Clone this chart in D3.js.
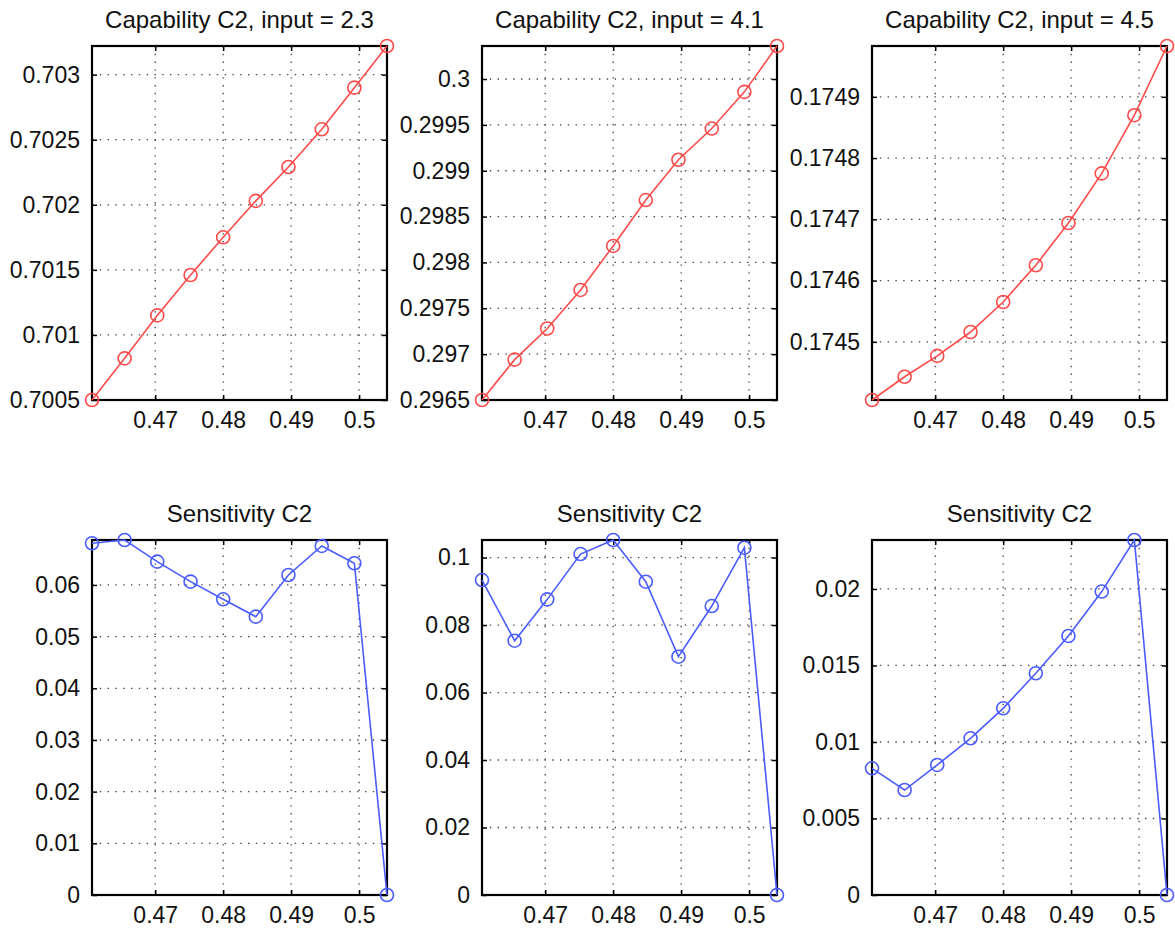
<!DOCTYPE html>
<html>
<head>
<meta charset="utf-8">
<script src="https://cdn.jsdelivr.net/npm/d3@7/dist/d3.min.js"></script>
<style>
  html, body { margin: 0; padding: 0; background: #fff; }
  svg text { font-family: "Liberation Sans", Arial, Helvetica, sans-serif; fill: #111; }
</style>
</head>
<body>
<svg id="fig" width="1175" height="934"></svg>
<script>
// Shared x values (parameter sweep)
const xValues = [0.4607, 0.4655, 0.4703, 0.4752, 0.4800, 0.4848, 0.4896, 0.4945, 0.4993, 0.5041];
const xTicks = [0.47, 0.48, 0.49, 0.5];
const xTickLabels = ["0.47", "0.48", "0.49", "0.5"];

// Capability C2 for three inputs
const capability23 = [0.70050, 0.70082, 0.70115, 0.70146, 0.70175, 0.70203, 0.70229, 0.70258, 0.70290, 0.70322];
const capability41 = [0.29650, 0.29694, 0.29728, 0.29770, 0.29818, 0.29868, 0.29912, 0.29946, 0.29986, 0.30036];
const capability45 = [0.174405, 0.174443, 0.174477, 0.174516, 0.174565, 0.174625, 0.174694, 0.174775, 0.174870, 0.174983];

// Sensitivity C2 for the same three inputs
const sensitivity23 = [0.06807, 0.06870, 0.06451, 0.06064, 0.05722, 0.05387, 0.06193, 0.06755, 0.06420, 0];
const sensitivity41 = [0.09333, 0.07536, 0.08761, 0.10104, 0.10520, 0.09284, 0.07062, 0.08563, 0.10292, 0];
const sensitivity45 = [0.00828, 0.00686, 0.00850, 0.01024, 0.01220, 0.01449, 0.01693, 0.01983, 0.02320, 0];

// Y tick values and labels for each panel
const yTicks23 = [0.7005, 0.701, 0.7015, 0.702, 0.7025, 0.703];
const yTickLabels23 = ["0.7005", "0.701", "0.7015", "0.702", "0.7025", "0.703"];
const yTicks41 = [0.2965, 0.297, 0.2975, 0.298, 0.2985, 0.299, 0.2995, 0.3];
const yTickLabels41 = ["0.2965", "0.297", "0.2975", "0.298", "0.2985", "0.299", "0.2995", "0.3"];
const yTicks45 = [0.1745, 0.1746, 0.1747, 0.1748, 0.1749];
const yTickLabels45 = ["0.1745", "0.1746", "0.1747", "0.1748", "0.1749"];
const yTicksS23 = [0, 0.01, 0.02, 0.03, 0.04, 0.05, 0.06];
const yTickLabelsS23 = ["0", "0.01", "0.02", "0.03", "0.04", "0.05", "0.06"];
const yTicksS41 = [0, 0.02, 0.04, 0.06, 0.08, 0.1];
const yTickLabelsS41 = ["0", "0.02", "0.04", "0.06", "0.08", "0.1"];
const yTicksS45 = [0, 0.005, 0.01, 0.015, 0.02];
const yTickLabelsS45 = ["0", "0.005", "0.01", "0.015", "0.02"];

const titles = ["Capability C2, input = 2.3", "Capability C2, input = 4.1", "Capability C2, input = 4.5",
                "Sensitivity C2", "Sensitivity C2", "Sensitivity C2"];

const RED = "#ff4a4a";
const BLUE = "#4a5cff";

const panels = [
  { col: 0, row: 0, y: capability23, ticks: yTicks23, labels: yTickLabels23, color: RED },
  { col: 1, row: 0, y: capability41, ticks: yTicks41, labels: yTickLabels41, color: RED },
  { col: 2, row: 0, y: capability45, ticks: yTicks45, labels: yTickLabels45, color: RED },
  { col: 0, row: 1, y: sensitivity23, ticks: yTicksS23, labels: yTickLabelsS23, color: BLUE },
  { col: 1, row: 1, y: sensitivity41, ticks: yTicksS41, labels: yTickLabelsS41, color: BLUE },
  { col: 2, row: 1, y: sensitivity45, ticks: yTicksS45, labels: yTickLabelsS45, color: BLUE }
];

const colLeft = [92, 482, 872];
const rowTop = [46, 540];
const plotW = 295;
const plotH = [354, 355];
const FONT = 23;

const svg = d3.select("#fig");

panels.forEach((p, i) => {
  const W = plotW, H = plotH[p.row];
  const g = svg.append("g").attr("transform", `translate(${colLeft[p.col]},${rowTop[p.row]})`);

  const x = d3.scaleLinear().domain(d3.extent(xValues)).range([0, W]);
  const y = d3.scaleLinear().domain(d3.extent(p.y)).range([H, 0]);

  // dotted grid
  const grid = g.append("g").attr("stroke", "#444").attr("stroke-width", 1.3)
    .attr("stroke-dasharray", "1.4,6.4");
  grid.selectAll("line.gx").data(xTicks).join("line")
    .attr("x1", d => x(d)).attr("x2", d => x(d)).attr("y1", 0).attr("y2", H);
  grid.selectAll("line.gy").data(p.ticks).join("line")
    .attr("y1", d => y(d)).attr("y2", d => y(d)).attr("x1", 0).attr("x2", W);

  // axes: labels outside, tick marks pointing inward
  const ax = d3.axisBottom(x).tickValues(xTicks).tickSize(-5)
    .tickFormat((d, k) => xTickLabels[k]).tickPadding(14);
  const gx = g.append("g").attr("transform", `translate(0,${H})`).call(ax);
  const ay = d3.axisLeft(y).tickValues(p.ticks).tickSize(-5)
    .tickFormat((d, k) => p.labels[k]).tickPadding(12);
  const gy = g.append("g").call(ay);
  // mirrored ticks on top and right
  const axTop = d3.axisTop(x).tickValues(xTicks).tickSize(-5).tickFormat("");
  const gt = g.append("g").call(axTop);
  const ayR = d3.axisRight(y).tickValues(p.ticks).tickSize(-5).tickFormat("");
  const gr = g.append("g").attr("transform", `translate(${W},0)`).call(ayR);

  [gx, gy, gt, gr].forEach(a => {
    a.select(".domain").remove();
    a.selectAll(".tick line").attr("stroke", "#000").attr("stroke-width", 1.5);
    a.selectAll(".tick text").style("font-size", FONT + "px")
      .style("font-family", '"Liberation Sans", Arial, sans-serif').attr("fill", "#111");
  });
  gx.selectAll(".tick text").attr("dy", "0.6em");

  // frame
  g.append("rect").attr("x", 0).attr("y", 0).attr("width", W).attr("height", H)
    .attr("fill", "none").attr("stroke", "#000").attr("stroke-width", 2.2);

  // series line
  const line = d3.line().x((d, k) => x(xValues[k])).y(d => y(d));
  g.append("path").datum(p.y).attr("d", line)
    .attr("fill", "none").attr("stroke", p.color).attr("stroke-width", 1.6);

  // circle markers
  g.selectAll("circle.m").data(p.y).join("circle")
    .attr("cx", (d, k) => x(xValues[k])).attr("cy", d => y(d)).attr("r", 6.5)
    .attr("fill", "none").attr("stroke", p.color).attr("stroke-width", 1.6);

  // title
  g.append("text").attr("x", W / 2).attr("y", -18).attr("text-anchor", "middle")
    .style("font-size", "24px").text(titles[i]);
});
</script>
</body>
</html>
